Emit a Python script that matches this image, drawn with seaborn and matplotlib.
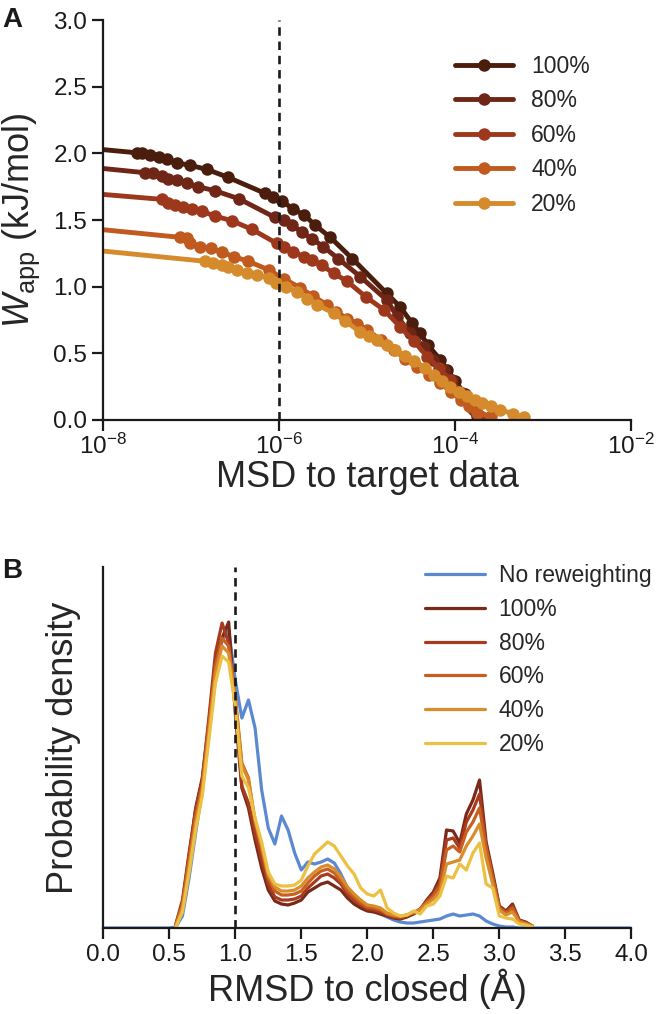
import numpy as np
import pandas as pd
import matplotlib
matplotlib.use("Agg")
import matplotlib.pyplot as plt
import matplotlib.ticker as mticker
import seaborn as sns

# ---- panel A: log10(MSD to target) vs W_app (kJ/mol) ----
levels = ["100%", "80%", "60%", "40%", "20%"]
colors_a = ["#4b1d0c", "#6f2616", "#9d381d", "#c05a1f", "#d58a2b"]

lmsd_100 = [-8.5, -7.62, -7.56, -7.47, -7.37, -7.28, -7.16, -7.01, -6.82, -6.58, -6.16, -6.07,
            -5.97, -5.84, -5.72, -5.59, -5.42, -5.17, -4.78, -4.63, -4.49, -4.40, -4.31,
            -4.17, -4.09, -4.00, -3.89, -3.79, -3.75]
wapp_100 = [2.06, 2.005, 2.00, 1.99, 1.97, 1.96, 1.93, 1.91, 1.88, 1.82, 1.70, 1.675,
            1.645, 1.58, 1.54, 1.46, 1.37, 1.21, 0.95, 0.85, 0.725, 0.65, 0.56,
            0.45, 0.375, 0.29, 0.19, 0.075, 0.03]

lmsd_80 = [-8.5, -7.52, -7.43, -7.33, -7.26, -7.16, -7.05, -6.92, -6.73, -6.46, -6.05, -5.95,
           -5.86, -5.74, -5.63, -5.50, -5.33, -5.08, -4.78, -4.66, -4.51, -4.36, -4.25,
           -4.13, -4.04, -3.92, -3.83, -3.74]
wapp_80 = [1.92, 1.855, 1.85, 1.83, 1.81, 1.80, 1.775, 1.75, 1.72, 1.66, 1.52, 1.50,
           1.46, 1.41, 1.36, 1.30, 1.21, 1.075, 0.90, 0.775, 0.65, 0.55, 0.45,
           0.375, 0.30, 0.20, 0.11, 0.03]

lmsd_60 = [-8.5, -7.33, -7.26, -7.18, -7.09, -6.99, -6.88, -6.73, -6.54, -6.31, -6.03, -5.95,
           -5.84, -5.72, -5.63, -5.52, -5.38, -5.23, -5.02, -4.81, -4.63, -4.47, -4.32,
           -4.19, -4.06, -3.92, -3.81, -3.72]
wapp_60 = [1.72, 1.655, 1.63, 1.61, 1.60, 1.58, 1.565, 1.53, 1.495, 1.43, 1.325, 1.30,
           1.26, 1.225, 1.20, 1.16, 1.10, 1.04, 0.925, 0.825, 0.70, 0.59, 0.475,
           0.39, 0.30, 0.19, 0.09, 0.03]

lmsd_40 = [-8.5, -7.125, -7.05, -7.01, -6.90, -6.78, -6.65, -6.52, -6.35, -6.12, -5.95, -5.76,
           -5.62, -5.46, -5.35, -5.23, -5.12, -5.00, -4.85, -4.70, -4.57, -4.435, -4.30,
           -4.17, -4.05, -3.94, -3.85, -3.75, -3.60]
wapp_40 = [1.46, 1.37, 1.365, 1.325, 1.30, 1.29, 1.26, 1.225, 1.19, 1.125, 1.06, 0.99,
           0.93, 0.865, 0.81, 0.76, 0.72, 0.675, 0.60, 0.525, 0.46, 0.40, 0.34,
           0.275, 0.21, 0.15, 0.10, 0.05, 0.03]

lmsd_20 = [-8.5, -6.84, -6.75, -6.65, -6.58, -6.48, -6.37, -6.25, -6.12, -6.04, -5.92, -5.80,
           -5.68, -5.57, -5.38, -5.25, -5.08, -4.98, -4.89, -4.78, -4.68, -4.57, -4.47,
           -4.35, -4.245, -4.15, -4.06, -3.96, -3.87, -3.78, -3.70, -3.60, -3.49, -3.34, -3.22]
wapp_20 = [1.30, 1.19, 1.175, 1.16, 1.15, 1.125, 1.105, 1.09, 1.065, 1.03, 1.00, 0.96,
           0.91, 0.865, 0.80, 0.74, 0.66, 0.63, 0.60, 0.565, 0.525, 0.48, 0.44,
           0.39, 0.34, 0.29, 0.25, 0.21, 0.175, 0.15, 0.125, 0.10, 0.075, 0.045, 0.02]

# ---- panel B: RMSD to closed (A) vs probability density ----
rmsd_grid = np.round(np.arange(0.45, 3.2501, 0.05), 2)
nan = np.nan

dens_none = [0, 0, 1, 12, 50, 95, 138, 195, 250, 288, 298, 248,
             210, 228, 200, 138, 100, 84, 112, 98, 75, 58,
             66, 64, 66, 69, 65, 54, 40, 30, 22, 19,
             17, 14, 11, 8, 6, 5, 5, 6, 7, 8,
             9, 12, 14, 12, 13, 14, 12, 7, 4, 2,
             1, 1, 0, 0, 0]
dens_100 = [nan, nan, 3, 25, 72, 120, 150, 205, 268, 290, 306, 215,
            140, 120, 88, 60, 38, 27, 24, 23, 25, 28,
            36, 40, 44, 46, 42, 38, 30, 24, 20, 17,
            16, 14, 12, 10, 9, 11, 14, 18, 28, 36,
            50, 98, 97, 85, 114, 128, 148, 86, 55, 22,
            17, 24, 8, 6, 2]
dens_80 = [nan, nan, 4, 28, 75, 118, 148, 210, 275, 305, 285, 225,
           142, 125, 95, 68, 44, 31, 28, 28, 29, 32,
           40, 46, 52, 54, 50, 44, 34, 28, 23, 19,
           18, 16, 13, 11, 10, 12, 15, 19, 27, 34,
           46, 88, 90, 80, 106, 118, 134, 82, 52, 21,
           16, 22, 8, 5, 2]
dens_60 = [nan, nan, 3, 24, 68, 112, 142, 202, 262, 290, 282, 232,
           165, 150, 105, 78, 50, 37, 33, 33, 34, 37,
           45, 52, 57, 59, 55, 47, 37, 31, 25, 21,
           20, 18, 14, 12, 11, 13, 15, 19, 26, 32,
           42, 78, 82, 76, 96, 106, 120, 80, 50, 20,
           15, 20, 7, 5, 2]
dens_40 = [nan, nan, 2, 20, 62, 105, 138, 196, 255, 282, 275, 228,
           163, 148, 108, 82, 53, 41, 37, 37, 38, 42,
           50, 56, 61, 63, 59, 51, 41, 34, 28, 23,
           22, 20, 15, 13, 12, 13, 16, 18, 24, 29,
           36, 64, 66, 68, 82, 92, 104, 70, 44, 18,
           13, 16, 6, 4, 2]
dens_20 = [nan, nan, 1, 16, 55, 98, 132, 188, 245, 272, 266, 222,
           152, 140, 110, 86, 56, 44, 42, 42, 43, 48,
           62, 74, 80, 86, 82, 72, 62, 54, 40, 34,
           32, 38, 20, 15, 12, 13, 17, 14, 22, 24,
           32, 52, 50, 64, 58, 75, 85, 44, 40, 12,
           10, 9, 4, 3, 1]

color_none = "#5b89d1"
colors_b = ["#7a2818", "#a83b1e", "#c65f1f", "#da8b2b", "#ecc043"]

sns.set_theme(style="ticks")
plt.rcParams["font.family"] = ["Liberation Sans", "DejaVu Sans"]
plt.rcParams["mathtext.fontset"] = "custom"
plt.rcParams["mathtext.rm"] = "Liberation Sans"
plt.rcParams["mathtext.it"] = "Liberation Sans:italic"
plt.rcParams["axes.unicode_minus"] = True

fig = plt.figure(figsize=(6.66, 10.14), dpi=100)
ax1 = fig.add_axes([0.155, 0.586, 0.793, 0.394])
ax2 = fig.add_axes([0.155, 0.0848, 0.793, 0.356])

# Panel A
ax1.set_xscale("log")
series_a = [(lmsd_100, wapp_100), (lmsd_80, wapp_80), (lmsd_60, wapp_60),
            (lmsd_40, wapp_40), (lmsd_20, wapp_20)]
for lab, (lx, w), c in zip(levels, series_a, colors_a):
    df = pd.DataFrame({"msd": 10.0 ** np.array(lx), "wapp": w})
    sns.lineplot(data=df, x="msd", y="wapp", ax=ax1, color=c, lw=3.5,
                 marker="o", ms=9, mew=0, label=lab, sort=False, estimator=None)
ax1.axvline(1e-6, color="#1a1a1a", ls=(0, (3.2, 2.2)), lw=1.9, zorder=5)
ax1.set_xlim(1e-8, 1e-2)
ax1.set_ylim(0, 3.0)
ax1.set_xticks([1e-8, 1e-6, 1e-4, 1e-2])
ax1.xaxis.set_minor_locator(mticker.NullLocator())
ax1.set_yticks(np.arange(0, 3.01, 0.5))
ax1.yaxis.set_major_formatter(mticker.FormatStrFormatter("%.1f"))
ax1.set_ylabel(r"$W_{\mathrm{app}}$ (kJ/mol)", fontsize=26, labelpad=8)
ax1.legend(loc="upper left", bbox_to_anchor=(0.667, 0.913), frameon=False,
           fontsize=16.5, handlelength=2.5, handletextpad=0.8, labelspacing=0.5,
           borderpad=0, borderaxespad=0)

# Panel B
sns.lineplot(x=np.concatenate([[0.0], rmsd_grid, [4.0]]),
             y=np.array([0] + dens_none + [0]) / 100.0,
             ax=ax2, color=color_none, lw=2.3, label="No reweighting",
             sort=False, estimator=None)
for lab, d, c in zip(levels, [dens_100, dens_80, dens_60, dens_40, dens_20], colors_b):
    sns.lineplot(x=rmsd_grid, y=np.array(d, dtype=float) / 100.0, ax=ax2, color=c,
                 lw=2.3, label=lab, sort=False, estimator=None)
ax2.axvline(1.0, color="#1a1a1a", ls=(0, (3.2, 2.2)), lw=1.9, zorder=5)
ax2.set_xlim(0, 4)
ax2.set_ylim(0, 3.61)
ax2.set_yticks([])
ax2.set_xticks(np.arange(0, 4.01, 0.5))
ax2.xaxis.set_major_formatter(mticker.FormatStrFormatter("%.1f"))
ax2.set_xlabel("RMSD to closed (Å)", fontsize=26, labelpad=2)
ax2.set_ylabel("Probability density", fontsize=26, labelpad=16)
ax2.legend(loc="upper left", bbox_to_anchor=(0.61, 1.008), frameon=False,
           fontsize=16.5, handlelength=2.6, handletextpad=0.6, labelspacing=0.47,
           borderpad=0, borderaxespad=0)

for ax in (ax1, ax2):
    sns.despine(ax=ax)
    for s in ("left", "bottom"):
        ax.spines[s].set_linewidth(1.6)
        ax.spines[s].set_color("#1a1a1a")
    ax.tick_params(axis="both", length=8, width=1.6, labelsize=17.5, color="#1a1a1a",
                   labelcolor="#1a1a1a", direction="out")
ax1.tick_params(axis="x", pad=2)
ax1.set_xlabel("MSD to target data", fontsize=26, labelpad=1)

fig.text(0.003, 0.973, "A", fontsize=20, fontweight="bold", color="#1a1a1a", va="baseline")
fig.text(0.003, 0.430, "B", fontsize=20, fontweight="bold", color="#1a1a1a", va="baseline")

fig.savefig("out.png", dpi=100)
